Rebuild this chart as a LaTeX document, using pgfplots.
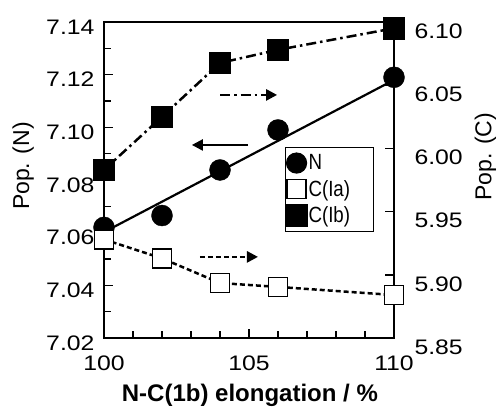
\documentclass[border=0pt]{standalone}
\usepackage{pgfplots}
\pgfplotsset{compat=1.18}
\usetikzlibrary{arrows.meta}
\usepackage{fontspec}
\setmainfont{Liberation Sans}
\newfontfamily\tickfont[FakeStretch=1.18]{Liberation Sans}
\newfontfamily\legfont[FakeStretch=0.85]{Liberation Sans}
\begin{document}
\begin{tikzpicture}
\useasboundingbox (-104pt,-73pt) rectangle (393pt,338pt);
\pgfplotsset{
  every axis/.append style={
    scale only axis, width=290pt, height=316pt, xmin=100, xmax=110,
    axis line style={line width=1.8pt},
    major tick length=9pt, minor tick length=7pt,
    every tick/.style={line width=1.5pt, black},
    tick align=inside,
    /pgf/number format/assume math mode=true,
    tick label style={font=\fontsize{21}{21}\selectfont\tickfont},
    clip=false,
  }
}
\begin{axis}[
  ymin=7.02, ymax=7.14,
  xtick={100,105,110}, minor xtick={101,102,103,104,106,107,108,109},
  ytick={7.02,7.04,7.06,7.08,7.10,7.12,7.14},
  minor ytick={7.03,7.05,7.07,7.09,7.11,7.13},
  xtick pos=bottom, ytick pos=left,
  yticklabel style={/pgf/number format/fixed, /pgf/number format/fixed zerofill, /pgf/number format/precision=2, yshift=-5pt, xshift=-6pt},
  xticklabel style={yshift=-14pt},
  xlabel={N-C(1b) elongation / \%},
  ylabel={Pop. (N)},
  every axis x label/.style={at={(axis description cs:0.503,-0.18)}, anchor=center, font=\fontsize{24}{24}\selectfont\bfseries},
  every axis y label/.style={at={(axis description cs:-0.279,0.544)}, anchor=center, rotate=90, font=\fontsize{23}{23}\selectfont},
]
\addplot[line width=2.2pt] coordinates {(100,7.0602) (110,7.118)};
\addplot[only marks, mark=*, mark size=10.5pt, black] coordinates {(100,7.062)(102,7.0665)(104,7.0838)(106,7.099)(110,7.119)};
\draw[line width=2.5pt, dash pattern=on 10pt off 4pt on 2.5pt off 4pt, -{Triangle[length=11pt,width=11pt]}] (axis cs:104.0,7.1123) -- (axis cs:105.97,7.1123);
\draw[line width=2.2pt, -{Triangle[length=11pt,width=11pt]}] (axis cs:104.97,7.0933) -- (axis cs:103.03,7.0933);
\draw[line width=2.5pt, dash pattern=on 5pt off 3pt, -{Triangle[length=11pt,width=11pt]}] (axis cs:103.31,7.0508) -- (axis cs:105.31,7.0508);
\end{axis}
\begin{axis}[
  ymin=5.85, ymax=6.10,
  hide x axis,
  ytick={5.85,5.90,5.95,6.00,6.05,6.10},
  ytick pos=right, yticklabel pos=right,
  yticklabel style={/pgf/number format/fixed, /pgf/number format/fixed zerofill, /pgf/number format/precision=2, yshift=-9pt, xshift=17pt},
  ylabel={Pop. (C)},
  every axis y label/.style={at={(axis description cs:1.315,0.573)}, anchor=center, rotate=90, font=\fontsize{23}{23}\selectfont},
  legend style={at={(0.624,0.604)}, anchor=north west, draw=black, line width=1.2pt, font=\fontsize{22}{22}\selectfont\legfont, inner xsep=1pt, inner ysep=5pt, row sep=5pt},
  legend cell align=left,
]
\addlegendimage{only marks, mark=*, mark size=10pt, black}
\addlegendentry{\makebox[62pt][l]{N}}
\addplot[line width=2.5pt, dash pattern=on 5pt off 3pt, mark=square*, mark options={solid, fill=white, line width=1.8pt}, mark size=9.5pt] coordinates {(100,5.928)(102,5.913)(104,5.8935)(106,5.8904)(110,5.884)};
\addlegendentry{C(Ia)}
\addplot[line width=2.5pt, dash pattern=on 10pt off 4pt on 2.5pt off 4pt, mark=square*, mark options={solid, fill=black}, mark size=10pt] coordinates {(100,5.983)(102,6.025)(104,6.0676)(106,6.078)(110,6.095)};
\addlegendentry{C(Ib)}
\end{axis}
\end{tikzpicture}
\end{document}
